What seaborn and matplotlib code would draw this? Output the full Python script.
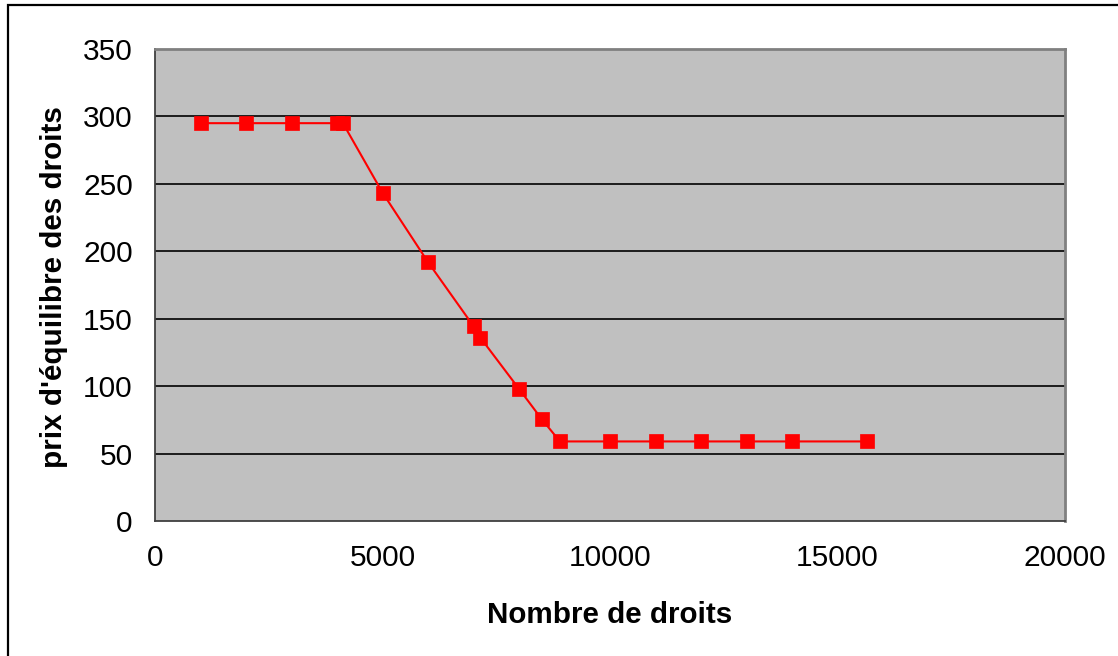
import matplotlib
matplotlib.use("Agg")
import matplotlib.pyplot as plt
import seaborn as sns
from matplotlib.patches import Rectangle

# nombre de droits / prix d'equilibre
nb_droits = [1000, 2000, 3000, 4000, 4130, 5000, 6000, 7000, 7150, 8000,
             8500, 8900, 10000, 11000, 12000, 13000, 14000, 15650]
prix = [295, 295, 295, 295, 295, 243.5, 192, 144.5, 136, 98,
        75.5, 59, 59, 59, 59, 59, 59, 59]

x_ticks = [0, 5000, 10000, 15000, 20000]
y_ticks = [0, 50, 100, 150, 200, 250, 300, 350]

sns.set_style("white")
plt.rcParams['font.family'] = ['Liberation Sans', 'DejaVu Sans']
plt.rcParams['text.color'] = 'black'
plt.rcParams['axes.labelcolor'] = 'black'

fig = plt.figure(figsize=(11.18, 6.56), dpi=100)
ax = fig.add_axes([155/1118, 1 - 521/656, 910/1118, 472/656])
ax.set_facecolor("#C0C0C0")

# bordure de la zone de graphique
fig.patches.append(Rectangle((8/1118, -0.05), 1.2, 1 - 5/656 + 0.05,
                             transform=fig.transFigure, fill=False,
                             edgecolor="black", linewidth=1.6, zorder=0))

for yv in y_ticks[1:-1]:
    ax.axhline(yv, color="black", linewidth=1.2, zorder=1)

sns.lineplot(x=nb_droits, y=prix, ax=ax, color="#FF0000", linewidth=1.5,
             marker="s", markersize=10, markeredgecolor="#FF0000",
             markeredgewidth=0.5, zorder=3)

ax.set_xlim(0, 20000)
ax.set_ylim(0, 350)
ax.set_xticks(x_ticks)
ax.set_yticks(y_ticks)
ax.tick_params(axis="both", direction="out", labelsize=21.5, colors="black",
               width=1.2)
ax.tick_params(axis="x", length=6.5, pad=10)
ax.tick_params(axis="y", length=6, pad=10)

for side in ["left", "bottom"]:
    ax.spines[side].set_color("#404040")
    ax.spines[side].set_linewidth(1.3)
for side in ["top", "right"]:
    ax.spines[side].set_visible(True)
    ax.spines[side].set_color("#808080")
    ax.spines[side].set_linewidth(2)

ax.set_xlabel("Nombre de droits", fontsize=21.3, fontweight="bold")
ax.set_ylabel("prix d'équilibre des droits", fontsize=21.3, fontweight="bold")
ax.xaxis.set_label_coords(0.5, -0.199)
ax.xaxis.label.set_va("center")
ax.yaxis.set_label_coords(-0.111, 0.495)
ax.yaxis.label.set_va("center")

fig.savefig("out.png", dpi=100)
